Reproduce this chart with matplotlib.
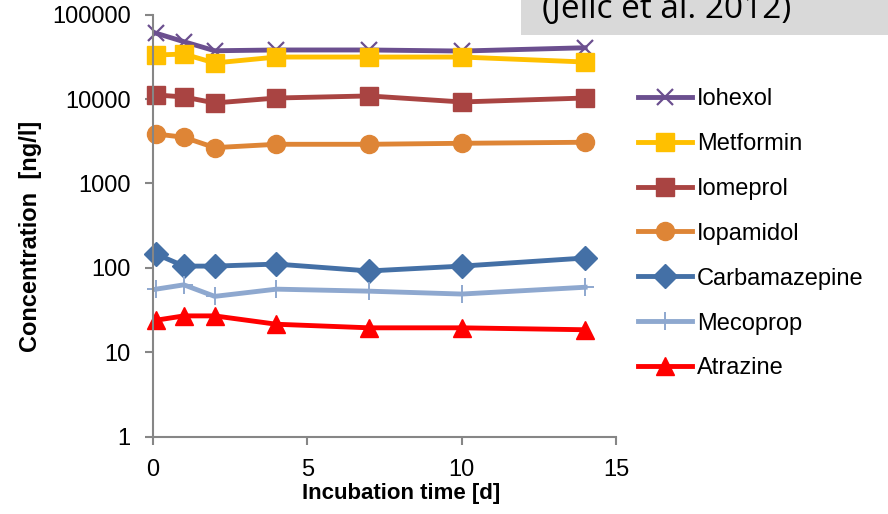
import matplotlib
matplotlib.use("Agg")
import matplotlib.pyplot as plt
from matplotlib.patches import Rectangle

plt.rcParams['font.family'] = ['Liberation Sans', 'DejaVu Sans']

days = [0.1, 1, 2, 4, 7, 10, 14]
names = ["Iohexol", "Metformin", "Iomeprol", "Iopamidol", "Carbamazepine", "Mecoprop", "Atrazine"]
iohexol = [60300, 47900, 37400, 38200, 38200, 37100, 40600]
metformin = [33300, 34200, 26800, 31500, 31500, 31500, 27500]
iomeprol = [11200, 10600, 9000, 10300, 10900, 9250, 10300]
iopamidol = [3860, 3530, 2660, 2915, 2915, 2995, 3080]
carbamazepine = [146, 105, 105, 111, 92, 105, 131]
mecoprop = [56, 63, 46, 56, 53, 49, 59]
atrazine = [24, 27, 27, 21.5, 19.5, 19.5, 18.5]
x_ticks = [0, 5, 10, 15]
y_ticks = [1, 10, 100, 1000, 10000, 100000]

series = [iohexol, metformin, iomeprol, iopamidol, carbamazepine, mecoprop, atrazine]
styles = [
    dict(color="#6B4F8F", marker="x", ms=11, mew=1.6),
    dict(color="#FFC000", marker="s", ms=13),
    dict(color="#A94442", marker="s", ms=13),
    dict(color="#DE8536", marker="o", ms=13),
    dict(color="#4470A6", marker="D", ms=12),
    dict(color="#8EA8CF", marker="+", ms=13, mew=1.4),
    dict(color="#FF0000", marker="^", ms=13),
]

fig = plt.figure(figsize=(8.88, 5.14), dpi=100)
ax = fig.add_axes([153/888, 1 - 436.7/514, (616 - 153)/888, (436.7 - 14.7)/514])

handles = []
for name, vals, st in zip(names, series, styles):
    h, = ax.plot(days, vals, lw=3.5, label=name, clip_on=False, **st)
    handles.append(h)

ax.set_yscale("log")
ax.set_xlim(0, 15)
ax.set_ylim(1, 100000)
ax.set_xticks(x_ticks)
ax.set_xticklabels([str(t) for t in x_ticks])
ax.set_yticks(y_ticks)
ax.set_yticklabels([str(t) for t in y_ticks])
ax.yaxis.set_minor_locator(matplotlib.ticker.NullLocator())
for s in ["top", "right"]:
    ax.spines[s].set_visible(False)
for s in ["left", "bottom"]:
    ax.spines[s].set_color("#868686")
    ax.spines[s].set_linewidth(1.5)
ax.tick_params(axis="both", colors="#868686", labelcolor="black", labelsize=17, length=6, width=1.5)
ax.tick_params(axis="x", pad=10)
ax.tick_params(axis="y", pad=10)

ax.set_xlabel("Incubation time [d]", fontsize=16, fontweight="bold")
ax.set_ylabel("Concentration  [ng/l]", fontsize=17, fontweight="bold")
ax.xaxis.set_label_coords(0.536, (436.7 - 494) / 422)
ax.yaxis.set_label_coords((31 - 153) / 463, 0.4756)
ax.xaxis.label.set_va("center")
ax.yaxis.label.set_va("center")

leg = fig.legend(handles=handles, labels=names, loc="upper left",
                 bbox_to_anchor=(638/888, 1 - 88/514), frameon=False,
                 fontsize=17, handlelength=2.3, labelspacing=0.97,
                 handletextpad=0.2, borderaxespad=0, borderpad=0)

# citation box
fig.patches.append(Rectangle((521/888, 1 - 35/514), 1 - 521/888, 35/514,
                             transform=fig.transFigure, facecolor="#D9D9D9",
                             edgecolor="none", zorder=0))
fig.text(542/888, 1 - 10/514, "(Jelic et al. 2012)", fontsize=24,
         family=["Open Sans", "DejaVu Sans"], ha="left", va="center", color="black")

fig.savefig("out.png", dpi=100)
